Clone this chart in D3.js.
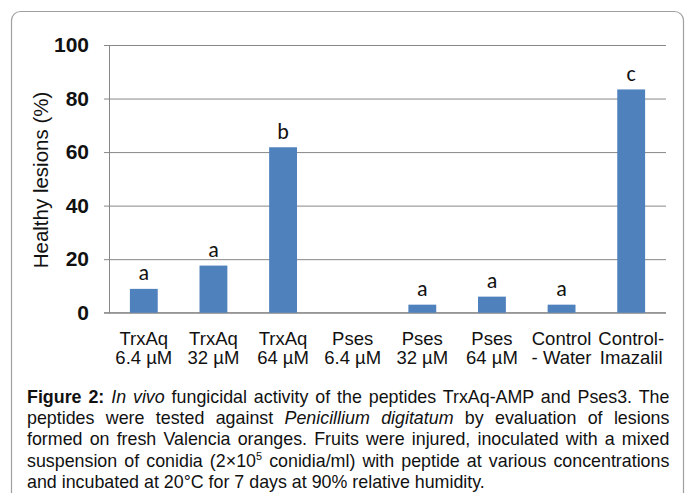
<!DOCTYPE html>
<html>
<head>
<meta charset="utf-8">
<script src="https://cdn.jsdelivr.net/npm/d3@7"></script>
<style>
  body { margin: 0; background: #fff; }
  svg { display: block; font-family: "Liberation Sans", Arial, sans-serif; }
</style>
</head>
<body>
<svg id="chart" width="685" height="493"></svg>
<script>
// data
const categories = [
  ["TrxAq", "6.4 µM"], ["TrxAq", "32 µM"], ["TrxAq", "64 µM"],
  ["Pses", "6.4 µM"], ["Pses", "32 µM"], ["Pses", "64 µM"],
  ["Control", "- Water"], ["Control-", "Imazalil"]
];
const values = [8.9, 17.6, 61.8, 0, 3, 6, 3, 83.4];
const letters = ["a", "a", "b", "", "a", "a", "a", "c"];
const yTicks = [0, 20, 40, 60, 80, 100];

const svg = d3.select("#chart");

// frame round the figure
svg.append("rect")
  .attr("x", 11.5).attr("y", 11.5)
  .attr("width", 672).attr("height", 600)
  .attr("rx", 9)
  .attr("fill", "none")
  .attr("stroke", "#a0a0a0")
  .attr("stroke-width", 1.2);

const plotL = 109, plotR = 666, plotT = 45, plotB = 312.7;

const x = d3.scaleBand()
  .domain(d3.range(categories.length))
  .range([plotL, plotR])
  .paddingInner(0.6)
  .paddingOuter(0.3);

const y = d3.scaleLinear().domain([0, 100]).range([plotB, plotT]);

// grid lines
svg.append("g")
  .attr("transform", `translate(${plotL},0)`)
  .call(d3.axisLeft(y).tickValues(yTicks).tickSize(-(plotR - plotL)).tickFormat(""))
  .call(g => g.select(".domain").remove())
  .call(g => g.selectAll("line").attr("stroke", "#878787"));

// y axis
svg.append("g")
  .attr("transform", `translate(${plotL},0)`)
  .call(d3.axisLeft(y).tickValues(yTicks).tickSize(5).tickPadding(15).tickSizeOuter(0))
  .call(g => g.select(".domain").attr("stroke", "#878787"))
  .call(g => g.selectAll("line").attr("stroke", "#878787"))
  .call(g => g.selectAll("text")
    .attr("font-family", "'Liberation Sans', Arial, sans-serif")
    .attr("font-size", 21).attr("font-weight", "bold").attr("fill", "#111"));

// baseline
svg.append("line")
  .attr("x1", plotL - 5).attr("x2", plotR)
  .attr("y1", y(0)).attr("y2", y(0))
  .attr("stroke", "#878787");

// bars
svg.append("g").selectAll("rect")
  .data(values)
  .join("rect")
  .attr("x", (d, i) => x(i))
  .attr("width", x.bandwidth())
  .attr("y", d => y(d))
  .attr("height", d => y(0) - y(d))
  .attr("fill", "#4f81bd");

// significance letters
svg.append("g").selectAll("text")
  .data(values)
  .join("text")
  .attr("x", (d, i) => x(i) + x.bandwidth() / 2)
  .attr("y", d => y(d) - 8.5)
  .attr("text-anchor", "middle")
  .attr("font-family", "Carlito, 'Open Sans', sans-serif")
  .attr("font-size", 22)
  .attr("fill", "#111")
  .text((d, i) => letters[i]);

// category labels
const xl = svg.append("g").selectAll("text")
  .data(categories)
  .join("text")
  .attr("text-anchor", "middle")
  .attr("font-size", 18.5)
  .attr("fill", "#111");
xl.append("tspan")
  .attr("x", (d, i) => x(i) + x.bandwidth() / 2)
  .attr("y", 345)
  .text(d => d[0]);
xl.append("tspan")
  .attr("x", (d, i) => x(i) + x.bandwidth() / 2)
  .attr("y", 364)
  .text(d => d[1]);

// y title
svg.append("text")
  .attr("transform", "translate(48,180) rotate(-90)")
  .attr("text-anchor", "middle")
  .attr("font-size", 20.5)
  .attr("fill", "#111")
  .text("Healthy lesions (%)");

// caption
const capLines = [
  [["b", "Figure 2:"], ["", " "], ["i", "In vivo"], ["", " fungicidal activity of the peptides TrxAq-AMP and Pses3. The"]],
  [["", "peptides were tested against "], ["i", "Penicillium digitatum"], ["", " by evaluation of lesions"]],
  [["", "formed on fresh Valencia oranges. Fruits were injured, inoculated with a mixed"]],
  [["", "suspension of conidia (2×10"], ["sup", "5"], ["", " conidia/ml) with peptide at various concentrations"]],
  [["", "and incubated at 20°C for 7 days at 90% relative humidity."]]
];
const capX = 27, capW = 643;
const cap = svg.append("g").attr("font-size", 18).attr("fill", "#111");
const capTexts = capLines.map((line, li) => {
  const g = cap.append("g");
  const t = g.append("text").attr("x", 0).attr("y", 0);
  let raised = false;
  line.forEach(([k, s]) => {
    const sp = t.append("tspan").text(s);
    if (k === "b") sp.attr("font-weight", "bold");
    if (k === "i") sp.attr("font-style", "italic");
    if (k === "sup") {
      sp.attr("font-size", 11).attr("dy", -7);
      raised = true;
    } else if (raised) {
      sp.attr("dy", 7);
      raised = false;
    }
  });
  return { g, t, li, text: line.map(p => p[1]).join(""), nat: t.node().getComputedTextLength() };
});
// narrow face: squeeze every line by the same factor, then widen word gaps to justify
const sx = 0.97 * d3.min(capTexts.slice(0, 4), d => capW / d.nat);
capTexts.forEach(({ g, t, li, text, nat }) => {
  g.attr("transform", `translate(${capX},${403 + li * 21.2}) scale(${sx},1)`);
  if (li < 4) {
    const gaps = (text.match(/ /g) || []).length;
    t.attr("word-spacing", (capW / sx - nat) / gaps);
  }
});
</script>
</body>
</html>
